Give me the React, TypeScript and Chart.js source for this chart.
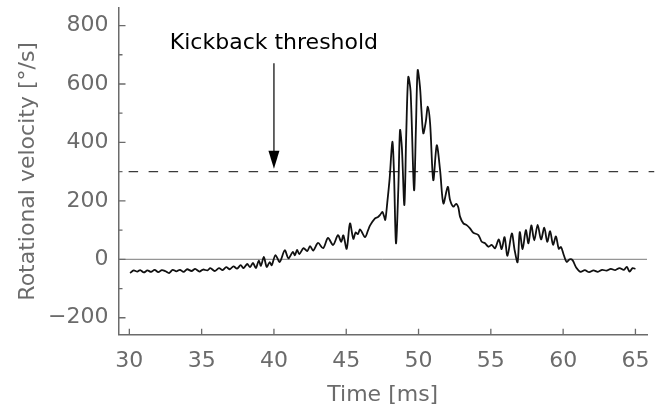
import { useEffect, useRef } from "react";
import { Chart, registerables } from "chart.js";

Chart.register(...registerables);

// ---- data ----
const timeMs = [
  30.05, 30.3, 30.55, 30.75, 31.0, 31.25, 31.5, 31.75, 32.0, 32.25, 32.5, 32.75, 33.0, 33.25, 33.5, 33.75,
  34.0, 34.3, 34.55, 34.85, 35.1, 35.4, 35.6, 35.9, 36.2, 36.45, 36.7, 36.95, 37.2, 37.45, 37.7, 37.9,
  38.15, 38.35, 38.55, 38.75, 38.95, 39.1, 39.3, 39.5, 39.7, 39.85, 40.1, 40.4, 40.75, 41.0, 41.3, 41.45,
  41.6, 41.75, 42.05, 42.3, 42.5, 42.72, 43.05, 43.4, 43.74, 44.09, 44.43, 44.65, 44.8, 45.03, 45.26, 45.49,
  45.65, 45.8, 45.96, 46.3, 46.5, 46.65, 46.99, 47.2, 47.34, 47.5, 47.6, 47.7, 47.84, 48.0, 48.19, 48.3,
  48.44, 48.6, 48.72, 48.85, 49.02, 49.15, 49.29, 49.45, 49.69, 49.82, 49.94, 50.1, 50.2, 50.33, 50.5, 50.64,
  50.8, 51.02, 51.26, 51.49, 51.72, 52.02, 52.18, 52.41, 52.6, 52.75, 52.87, 53.1, 53.33, 53.56, 53.79, 54.14,
  54.37, 54.6, 54.83, 55.06, 55.29, 55.55, 55.75, 55.95, 56.15, 56.45, 56.65, 56.85, 57.0, 57.2, 57.42, 57.6,
  57.8, 58.0, 58.24, 58.47, 58.7, 58.9, 59.1, 59.3, 59.5, 59.7, 59.85, 60.05, 60.25, 60.45, 60.65, 60.9,
  61.2, 61.5, 61.8, 62.1, 62.4, 62.7, 63.0, 63.3, 63.6, 63.9, 64.2, 64.4, 64.6, 64.8, 65.0,
];
const velocity = [
  -47, -38, -42, -37, -45, -38, -43, -36, -44, -37, -41, -47, -36, -41, -36, -43,
  -34, -40, -33, -42, -35, -38, -30, -40, -30, -37, -27, -34, -24, -32, -20, -30,
  -16, -27, -12, -30, -5, -22, 8, -26, -10, -20, 14, -9, 31, 3, 25, 14,
  32, 18, 38, 28, 45, 30, 56, 38, 73, 49, 83, 60, 82, 36, 123, 70,
  92, 86, 102, 76, 98, 116, 140, 145, 152, 162, 150, 135, 195, 275, 402, 300,
  55, 237, 442, 380, 186, 430, 624, 575, 237, 450, 647, 590, 510, 431, 470, 522,
  465, 271, 390, 305, 191, 248, 203, 180, 190, 178, 146, 123, 117, 106, 91, 83,
  60, 55, 43, 49, 38, 68, 35, 76, 12, 88, 30, -10, 93, 35, 100, 55,
  116, 65, 118, 68, 108, 60, 96, 50, 78, 36, 42, 14, -9, 0, -3, -28,
  -43, -37, -44, -38, -43, -36, -39, -33, -37, -30, -36, -26, -42, -30, -33,
];

const xTickValues = [30, 35, 40, 45, 50, 55, 60, 65];
const yTickValues = [-200, 0, 200, 400, 600, 800];
const yTickLabels = ["\u2212200", "0", "200", "400", "600", "800"];
const yMinorTickValues = [-100, 100, 300, 500, 700];

const thresholdValue = 300;
const thresholdSpan = [29.95, 66.3];

const annotationText = "Kickback threshold";
const annotationX = 40;
const annotationTextY = 721;
const arrowFromY = 671;
const arrowToY = 310;

const xTitle = "Time [ms]";
const yTitle = "Rotational velocity [°/s]";

const FONT = "'DejaVu Sans', sans-serif";
const GRAY = "#6b6b6b";

const decorPlugin = {
  id: "decor",
  beforeDatasetsDraw(chart: any) {
    const { ctx, chartArea } = chart;
    const y = chart.scales.y;
    const py = y.getPixelForValue(0);
    ctx.save();
    ctx.strokeStyle = "#7a7a7a";
    ctx.lineWidth = 1;
    ctx.beginPath();
    ctx.moveTo(chartArea.left, py);
    ctx.lineTo(chartArea.right, py);
    ctx.stroke();
    ctx.restore();
  },
  afterDraw(chart: any) {
    const { ctx, chartArea } = chart;
    const x = chart.scales.x;
    const y = chart.scales.y;
    ctx.save();
    ctx.strokeStyle = GRAY;
    ctx.lineWidth = 1.3;
    ctx.beginPath();
    yTickValues.forEach((v) => {
      const p = y.getPixelForValue(v);
      ctx.moveTo(chartArea.left, p);
      ctx.lineTo(chartArea.left + 7, p);
    });
    yMinorTickValues.forEach((v) => {
      const p = y.getPixelForValue(v);
      ctx.moveTo(chartArea.left, p);
      ctx.lineTo(chartArea.left + 4, p);
    });
    xTickValues.forEach((v) => {
      const p = x.getPixelForValue(v);
      ctx.moveTo(p, chartArea.bottom);
      ctx.lineTo(p, chartArea.bottom - 6);
    });
    ctx.stroke();

    // annotation
    const ax = x.getPixelForValue(annotationX);
    const ty = y.getPixelForValue(annotationTextY);
    const a0 = y.getPixelForValue(arrowFromY);
    const a1 = y.getPixelForValue(arrowToY);
    ctx.fillStyle = "#000";
    ctx.font = `22px ${FONT}`;
    ctx.textAlign = "center";
    ctx.textBaseline = "alphabetic";
    ctx.fillText(annotationText, ax, ty);
    ctx.strokeStyle = "#000";
    ctx.lineWidth = 1.2;
    ctx.beginPath();
    ctx.moveTo(ax, a0);
    ctx.lineTo(ax, a1 - 14);
    ctx.stroke();
    ctx.beginPath();
    ctx.moveTo(ax, a1);
    ctx.lineTo(ax - 5.5, a1 - 18);
    ctx.lineTo(ax + 5.5, a1 - 18);
    ctx.closePath();
    ctx.fill();
    ctx.restore();
  },
};

export default function App() {
  const canvasRef = useRef<HTMLCanvasElement | null>(null);

  useEffect(() => {
    if (!canvasRef.current) return;
    const chart = new Chart(canvasRef.current, {
      type: "line",
      data: {
        datasets: [
          {
            label: "threshold",
            data: thresholdSpan.map((t) => ({ x: t, y: thresholdValue })),
            borderColor: "#3a3a3a",
            borderWidth: 1.3,
            borderDash: [9.5, 10.5],
            pointRadius: 0,
            clip: false as any,
            order: 2,
          },
          {
            label: "velocity",
            data: timeMs.map((t, i) => ({ x: t, y: velocity[i] })),
            borderColor: "#111",
            borderWidth: 1.8,
            pointRadius: 0,
            tension: 0.3,
            order: 1,
          },
        ],
      },
      options: {
        animation: false,
        responsive: true,
        maintainAspectRatio: false,
        layout: { padding: { left: 0, top: 8, right: 15, bottom: 0 } },
        plugins: {
          legend: { display: false },
          tooltip: { enabled: false },
        },
        scales: {
          x: {
            type: "linear",
            min: 29.25,
            max: 65.8,
            grid: { display: false, drawTicks: false },
            border: { display: true, color: GRAY, width: 1.5 },
            afterBuildTicks: (s: any) => {
              s.ticks = xTickValues.map((v) => ({ value: v }));
            },
            afterFit: (s: any) => {
              s.height = 79.3;
              s.paddingLeft = 0;
              s.paddingRight = 0;
            },
            ticks: {
              color: GRAY,
              font: { family: FONT, size: 22 },
              padding: 13,
              maxRotation: 0,
              autoSkip: false,
              callback: (v: any) => String(v),
            },
            title: {
              display: true,
              text: xTitle,
              color: GRAY,
              font: { family: FONT, size: 22 },
              padding: { top: 6, bottom: 6 },
            },
          },
          y: {
            type: "linear",
            min: -258,
            max: 860,
            grid: { display: false, drawTicks: false },
            border: { display: true, color: GRAY, width: 1.5 },
            afterBuildTicks: (s: any) => {
              s.ticks = yTickValues.map((v) => ({ value: v }));
            },
            afterFit: (s: any) => {
              s.width = 118.5;
              s.paddingTop = 0;
              s.paddingBottom = 0;
            },
            ticks: {
              color: GRAY,
              font: { family: FONT, size: 22 },
              padding: 10,
              autoSkip: false,
              callback: (v: any) => {
                const i = yTickValues.indexOf(Number(v));
                return i >= 0 ? yTickLabels[i] : "";
              },
            },
            title: {
              display: true,
              text: yTitle,
              color: GRAY,
              font: { family: FONT, size: 22 },
              padding: { top: 15, bottom: 15 },
            },
          },
        },
      },
      plugins: [decorPlugin],
    });
    return () => chart.destroy();
  }, []);

  return (
    <div style={{ position: "fixed", left: 0, top: 0, width: 662, height: 414, background: "#fff" }}>
      <canvas ref={canvasRef} />
    </div>
  );
}
